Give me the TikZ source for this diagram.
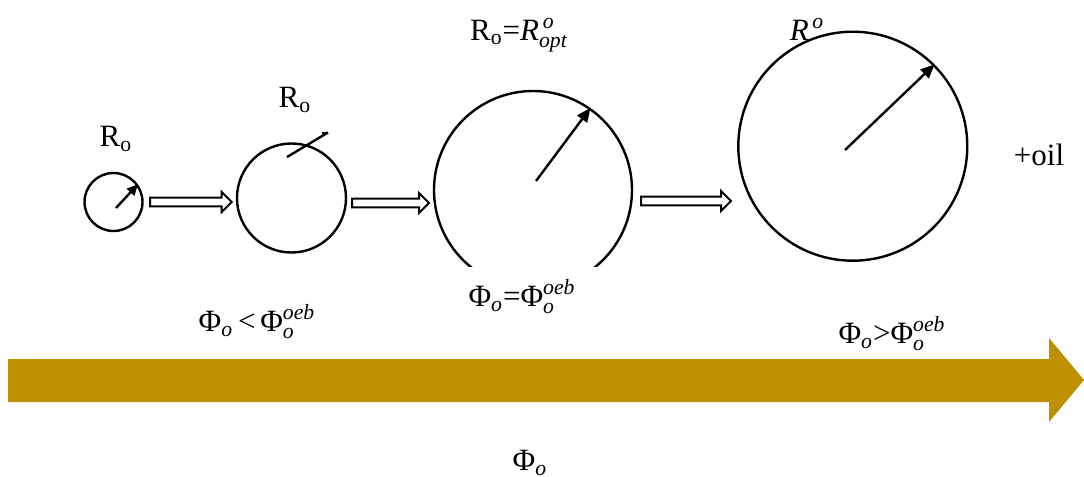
\documentclass[tikz,border=0pt]{standalone}
\usepackage{amsmath}
\usepackage{fontspec}
\setmainfont{Liberation Serif}
\usetikzlibrary{arrows.meta}
\definecolor{gold}{RGB}{191,144,0}
\newcommand{\hollowarrow}[3]{%
  \draw[hollow] (#1,#3-4.3) -- (#2-10,#3-4.3) -- (#2-10,#3-10) -- (#2,#3) -- (#2-10,#3+10) -- (#2-10,#3+4.3) -- (#1,#3+4.3) -- cycle;}
\begin{document}
\begin{tikzpicture}[x=0.5pt,y=-0.5pt,
  bubble/.style={circle,draw,line width=1.2pt,inner sep=0pt},
  radius arrow/.style={line width=1.2pt,-{Triangle[length=7pt,width=6pt]}},
  small arrow/.style={line width=1.2pt,-{Triangle[length=5.5pt,width=5pt]}},
  hollow/.style={draw,line width=1pt,fill=white},
  lbl/.style={font=\fontsize{15.5}{18}\selectfont,inner sep=0pt}]
\useasboundingbox (0,0) rectangle (1084,477);
% bubbles
\node[bubble,minimum size=29pt] (c1) at (113.5,202) {};
\node[bubble,minimum size=54.5pt] (c2) at (291.5,198) {};
\begin{scope}
\clip (380,0) rectangle (700,266);
\node[bubble,minimum size=99pt] (c3) at (533,190) {};
\end{scope}
\node[bubble,minimum size=114.5pt] (c4) at (852.8,146.2) {};
% radius arrows
\coordinate (s1) at (116,208);
\draw[small arrow] (s1) -- (c1.36);
\coordinate (s2) at (287,157);
\coordinate (e2) at (328,132.5);
\draw[line width=1.2pt] (s2) -- (e2);
\draw[line width=1pt] (322,132.5) -- (e2);
\coordinate (s3) at (536,181);
\draw[radius arrow] (s3) -- (c3.55);
\coordinate (s4) at (845,150);
\draw[radius arrow] (s4) -- (c4.45);
% hollow arrows
\hollowarrow{150}{231.7}{202}
\hollowarrow{352}{429}{203}
\hollowarrow{641}{731}{201}
% big golden arrow
\fill[gold] (8,359) -- (1049,359) -- (1049,338) -- (1084,380) -- (1049,422) -- (1049,402) -- (8,402) -- cycle;
% labels
\node[lbl] (l1) at (116,139) {$\text{R}_{\text{o}}$};
\node[lbl] (l2) at (295,100) {$\text{R}_{\text{o}}$};
\node[lbl] (l3) at (519,35) {$\text{R}_{\text{o}}\text{=}\textit{R}^{\,\textit{o}}_{\textit{opt}}$};
\node[lbl] (l4) at (807,29) {$\textit{R}^{\,\textit{o}}$};
\node[lbl] (l5) at (1039,155) {+oil};
\node[lbl] (l6) at (522,297) {$\text{Φ}_{\textit{o}}\text{=}\text{Φ}_{\textit{o}}^{\textit{oeb}}$};
\node[lbl] (l7) at (257,322) {$\text{Φ}_{\textit{o}}\,\text{<}\,\text{Φ}_{\textit{o}}^{\textit{oeb}}$};
\node[lbl] (l8) at (892,334) {$\text{Φ}_{\textit{o}}\text{>}\text{Φ}_{\textit{o}}^{\textit{oeb}}$};
\node[lbl] (l9) at (530,463) {$\text{Φ}_{\textit{o}}$};
\end{tikzpicture}
\end{document}
